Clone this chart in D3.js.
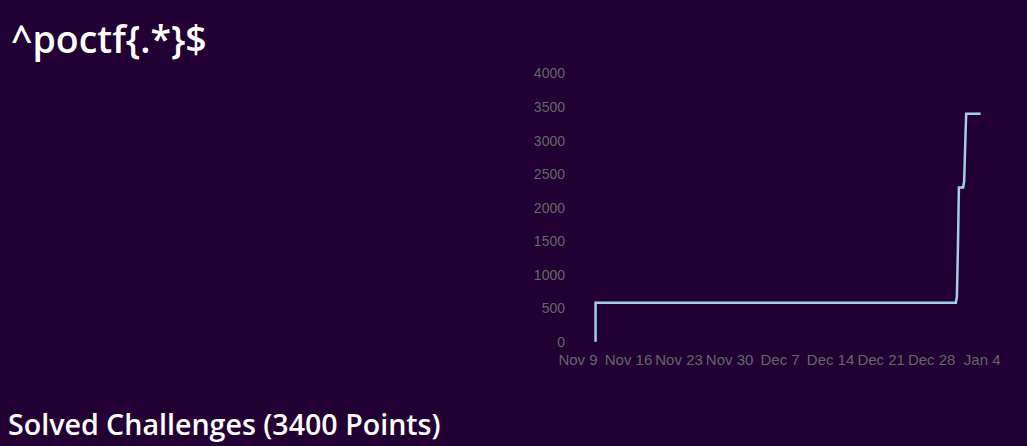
<!DOCTYPE html>
<html>
<head>
<meta charset="utf-8">
<script src="https://cdn.jsdelivr.net/npm/d3@7"></script>
<style>
  html, body { margin: 0; padding: 0; background: #220033; }
  svg { display: block; }
</style>
</head>
<body>
<svg id="chart" width="1027" height="446"></svg>
<script>
// ---- data ----
const solveTimes = [
  "2023-11-11T12:00", "2023-11-11T12:05", "2023-12-31T10:00", "2023-12-31T13:30",
  "2023-12-31T16:50", "2023-12-31T20:10", "2024-01-01T10:20", "2024-01-01T13:40",
  "2024-01-01T16:50", "2024-01-01T20:25", "2024-01-03T20:30"
];
const scoreValues = [0, 580, 580, 670, 1370, 2300, 2300, 2390, 2890, 3400, 3400];
const xTickDates = ["2023-11-09", "2023-11-16", "2023-11-23", "2023-11-30", "2023-12-07",
                    "2023-12-14", "2023-12-21", "2023-12-28", "2024-01-04"];
const yTickValues = [0, 500, 1000, 1500, 2000, 2500, 3000, 3500, 4000];
const titleText = "^poctf{.*}$";
const footerText = "Solved Challenges (3400 Points)";

const parseT = d3.timeParse("%Y-%m-%dT%H:%M");
const parseD = d3.timeParse("%Y-%m-%d");
const points = solveTimes.map((t, i) => ({ t: parseT(t), v: scoreValues[i] }));
const xTicks = xTickDates.map(parseD);

const svg = d3.select("#chart");
svg.append("rect").attr("width", 1027).attr("height", 446).attr("fill", "#220033");

const x = d3.scaleTime().domain([xTicks[0], xTicks[xTicks.length - 1]]).range([577.5, 981.7]);
const y = d3.scaleLinear().domain([0, 4000]).range([341.7, 73.5]);

// y axis
const gy = svg.append("g").attr("transform", "translate(565,0)")
  .call(d3.axisLeft(y).tickValues(yTickValues).tickSize(0).tickPadding(0).tickFormat(d3.format("d")));
gy.select(".domain").remove();
gy.selectAll("text").attr("fill", "#666666").style("font-family", "'Liberation Sans', Arial, sans-serif").style("font-size", "14px");

// x axis
const gx = svg.append("g").attr("transform", "translate(0,341.7)")
  .call(d3.axisBottom(x).tickValues(xTicks).tickSize(0).tickPadding(12.6).tickFormat(d3.timeFormat("%b %-d")));
gx.select(".domain").remove();
gx.selectAll("text").attr("fill", "#666666").style("font-family", "'Liberation Sans', Arial, sans-serif").style("font-size", "15px");

// line
const line = d3.line().x(d => x(d.t)).y(d => y(d.v));
svg.append("path").datum(points)
  .attr("d", line).attr("fill", "none").attr("stroke", "#a6cee3").attr("stroke-width", 2.5)
  .attr("stroke-linejoin", "miter");

// titles
svg.append("text").attr("x", 11).attr("y", 53).text(titleText)
  .attr("fill", "#ffffff").style("font-family", "'Open Sans', sans-serif").style("font-weight", 600).style("font-size", "37.5px");
svg.append("text").attr("x", 8).attr("y", 435).text(footerText)
  .attr("fill", "#ffffff").style("font-family", "'Open Sans', sans-serif").style("font-weight", 600).style("font-size", "28.6px");
</script>
</body>
</html>
